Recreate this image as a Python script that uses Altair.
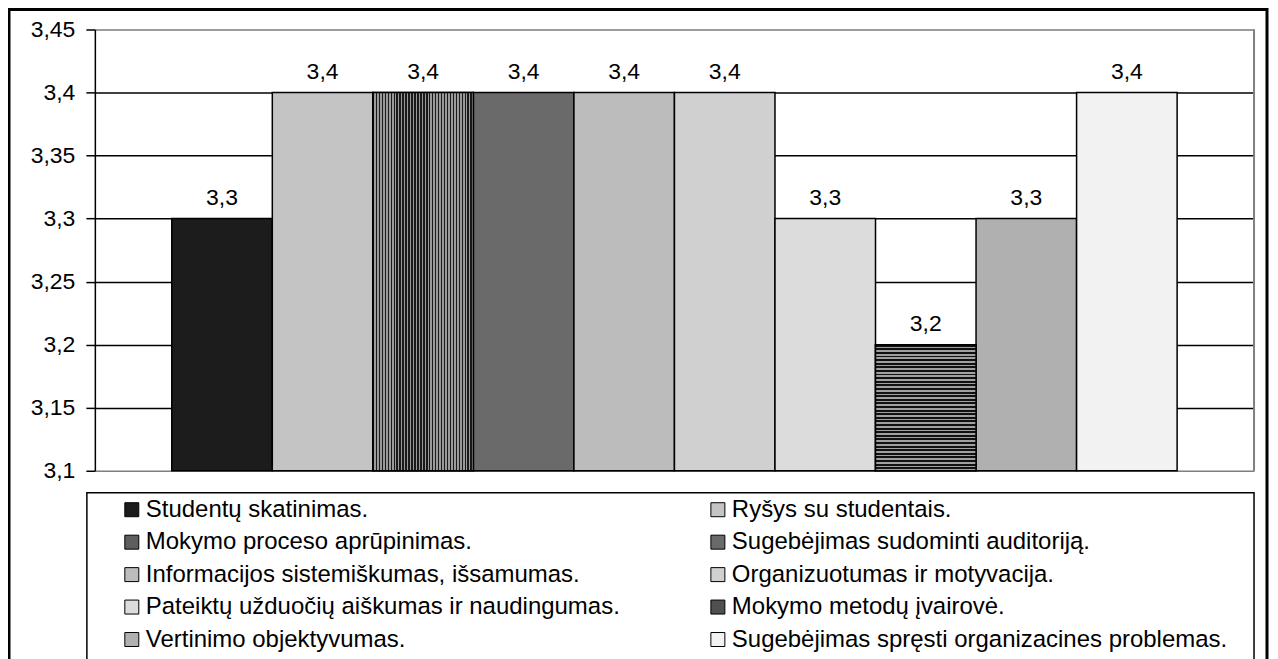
import altair as alt
import pandas as pd

categories = [
    "Studentų skatinimas.",
    "Ryšys su studentais.",
    "Mokymo proceso aprūpinimas.",
    "Sugebėjimas sudominti auditoriją.",
    "Informacijos sistemiškumas, išsamumas.",
    "Organizuotumas ir motyvacija.",
    "Pateiktų užduočių aiškumas ir naudingumas.",
    "Mokymo metodų įvairovė.",
    "Vertinimo objektyvumas.",
    "Sugebėjimas spręsti organizacines problemas.",
]
values = [3.3, 3.4, 3.4, 3.4, 3.4, 3.4, 3.3, 3.2, 3.3, 3.4]
fills = ["#1c1c1c", "#c4c4c4", "#5e5e5e", "#6a6a6a", "#bcbcbc",
         "#d0d0d0", "#dcdcdc", "#505050", "#b0b0b0", "#f2f2f2"]
y_ticks = [3.1, 3.15, 3.2, 3.25, 3.3, 3.35, 3.4, 3.45]

FONT = "Liberation Sans"
W, H = 1161, 442


def stripes(n, dark, light, frac, vertical):
    stops = []
    for k in range(n):
        a, b, c = k / n, (k + frac) / n, (k + 1) / n
        stops += [{"offset": a, "color": dark}, {"offset": b, "color": dark},
                  {"offset": b, "color": light}, {"offset": c, "color": light}]
    g = {"gradient": "linear", "stops": stops,
         "x1": 0, "y1": 0, "x2": 1 if vertical else 0, "y2": 0 if vertical else 1}
    return g


df = pd.DataFrame({"cat": categories, "val": values})
base = alt.Chart(df)

xenc = alt.X("cat:N", sort=categories, axis=None,
             scale=alt.Scale(paddingInner=0, paddingOuter=0.765))

frame = alt.Chart(alt.Data(values=[{}])).mark_rect(
    filled=False, stroke="black", strokeWidth=3
).encode(x=alt.value(-86), x2=alt.value(1174), y=alt.value(-20), y2=alt.value(700))

legend_box = alt.Chart(alt.Data(values=[{}])).mark_rect(
    filled=False, stroke="black", strokeWidth=1.5
).encode(x=alt.value(-8), x2=alt.value(1161), y=alt.value(464), y2=alt.value(700))

right_border = alt.Chart(alt.Data(values=[{}])).mark_rule(
    color="#808080", strokeWidth=2
).encode(x=alt.value(W), y=alt.value(0), y2=alt.value(H))

bars = base.mark_bar(stroke="black", strokeWidth=1.5, opacity=1).encode(
    x=xenc,
    y=alt.Y("val:Q",
            scale=alt.Scale(domain=[3.1, 3.45], zero=False, nice=False),
            axis=alt.Axis(
                values=y_ticks, title=None, grid=True,
                gridColor={"condition": {"test": "datum.value >= 3.449 || datum.value <= 3.101",
                                         "value": "#808080"}, "value": "#000000"},
                gridWidth=1.5,
                domainColor="black", domainWidth=1.5,
                tickColor="black", tickSize=9, tickWidth=1.5,
                labelFont=FONT, labelFontSize=23, labelColor="black",
                labelPadding=11,
                labelExpr="replace(format(datum.value, '.2~f'), '.', ',')",
            )),
    y2=alt.datum(3.1),
    color=alt.Color("cat:N",
                    scale=alt.Scale(domain=categories, range=fills),
                    legend=alt.Legend(
                        orient="none", legendX=25, legendY=469,
                        direction="horizontal",
                        title=None, columns=2, padding=0,
                        labelFont=FONT, labelFontSize=24, labelColor="black",
                        labelLimit=800, labelOffset=2,
                        symbolType="square", symbolSize=196,
                        symbolStrokeColor="black", symbolStrokeWidth=1,
                        symbolOpacity=1,
                        rowPadding=8.5, columnPadding=86, gridAlign="each",
                    )),
)

vstripe = base.transform_filter(
    alt.datum.cat == categories[2]
).mark_bar(fill=stripes(34, "#1a1a1a", "#9a9a9a", 0.5, True),
           stroke="black", strokeWidth=1.5).encode(x=xenc, y="val:Q", y2=alt.datum(3.1))

hstripe = base.transform_filter(
    alt.datum.cat == categories[7]
).mark_bar(fill=stripes(35, "#111111", "#a0a0a0", 0.55, False),
           stroke="black", strokeWidth=1.5).encode(x=xenc, y="val:Q", y2=alt.datum(3.1))

labels = base.transform_calculate(
    lab="replace(format(datum.val, '.1f'), '.', ',')"
).mark_text(font=FONT, fontSize=23, color="black", baseline="alphabetic", dy=-14).encode(
    x=alt.X("cat:N", sort=categories),
    y=alt.Y("val:Q"),
    text="lab:N",
)

chart = alt.layer(frame, legend_box, right_border, bars, vstripe, hstripe, labels).properties(
    width=W, height=H,
    autosize=alt.AutoSizeParams(type="none"),
    padding={"left": 87, "top": 21, "right": 16, "bottom": 188},
).configure_view(stroke="transparent").configure(background="white")

chart.save("out.html", embed_options={"renderer": "svg", "actions": False})
